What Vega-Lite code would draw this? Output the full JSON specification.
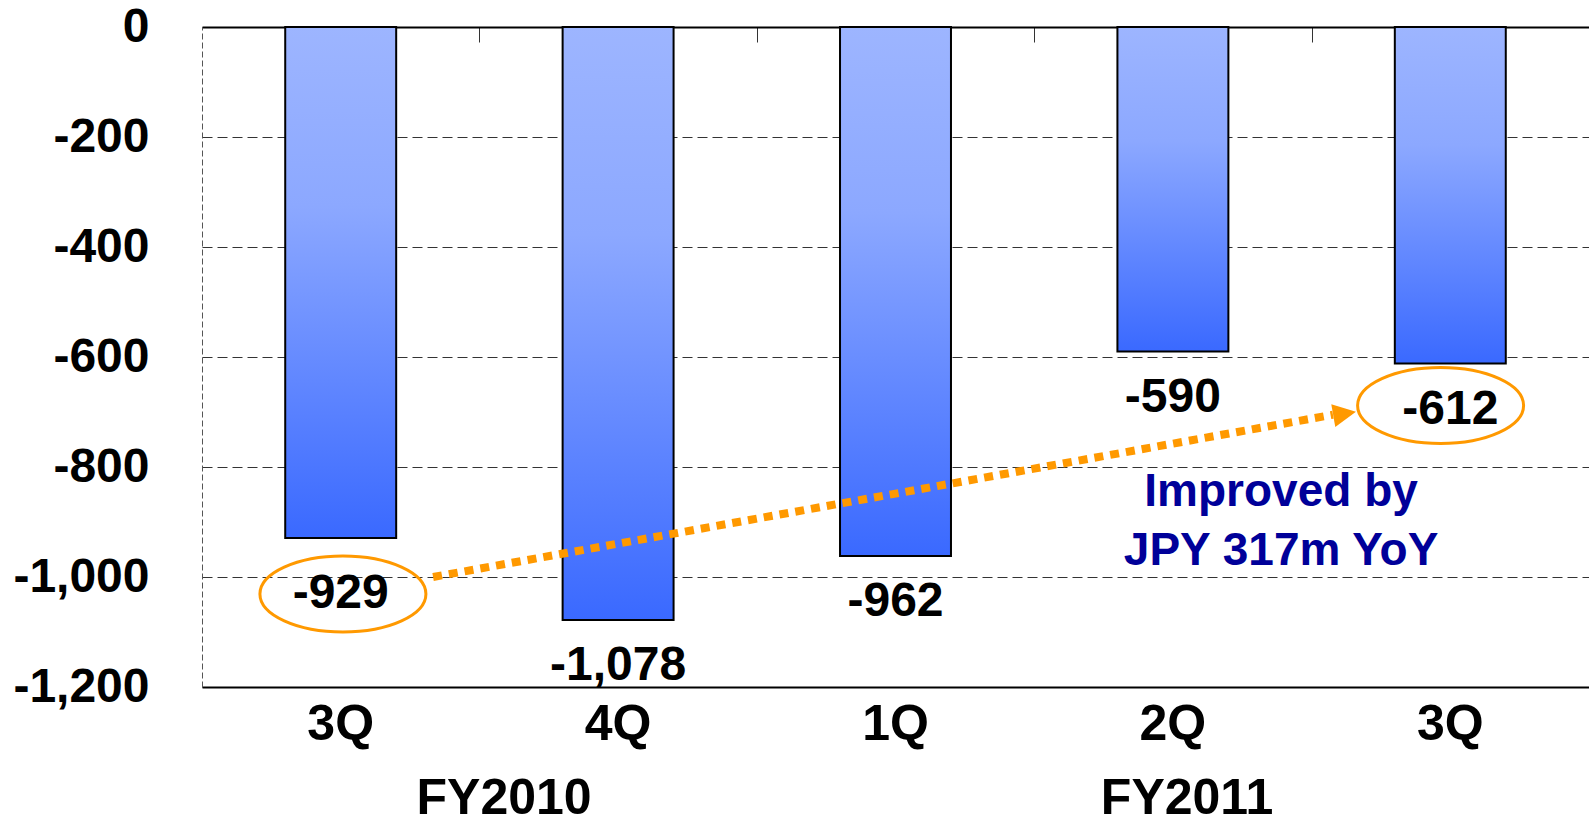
{
  "$schema": "https://vega.github.io/schema/vega-lite/v6.json",
  "width": 1387,
  "height": 660,
  "autosize": {"type": "none"},
  "padding": {"left": 202, "top": 27, "right": 0, "bottom": 138},
  "background": "white",
  "config": {"font": "Liberation Sans", "view": {"stroke": null}},
  "datasets": {
    "bars": [
      {"key": "3Q FY2010", "value": -929, "label": "-929"},
      {"key": "4Q FY2010", "value": -1078, "label": "-1,078"},
      {"key": "1Q FY2011", "value": -962, "label": "-962"},
      {"key": "2Q FY2011", "value": -590, "label": "-590"},
      {"key": "3Q FY2011", "value": -612, "label": "-612"}
    ],
    "ellipses": [
      {"u": 0.508, "yv": -1031},
      {"u": 4.465, "yv": -688}
    ],
    "arrowLine": [
      {"u": 0.833, "yv": -1000},
      {"u": 4.077, "yv": -705}
    ],
    "arrowHead": [
      {"u": 4.119, "yv": -703}
    ],
    "note": [
      {"u": 3.89, "yv": -846, "text": "Improved by\nJPY 317m YoY"}
    ],
    "fy": [
      {"u": 1.089, "yv": -1431, "text": "FY2010"},
      {"u": 3.551, "yv": -1431, "text": "FY2011"}
    ]
  },
  "resolve": {"scale": {"x": "independent"}, "axis": {"x": "independent"}},
  "layer": [
    {
      "data": {"name": "bars"},
      "layer": [
        {
          "mark": {
            "type": "bar",
            "stroke": "black",
            "strokeWidth": 2,
            "fill": {
              "gradient": "linear",
              "x1": 0, "y1": 0, "x2": 0, "y2": 1,
              "stops": [
                {"offset": 0, "color": "#9DB5FF"},
                {"offset": 0.35, "color": "#8CA8FF"},
                {"offset": 1, "color": "#3A69FF"}
              ]
            }
          },
          "encoding": {
            "x": {
              "field": "key", "type": "nominal", "sort": null,
              "scale": {"paddingInner": 0.6, "paddingOuter": 0.3},
              "axis": {
                "orient": "bottom", "title": null, "ticks": false,
                "labelExpr": "slice(datum.value, 0, 2)",
                "labelFontSize": 50, "labelFontWeight": "bold", "labelColor": "black",
                "labelPadding": 12, "labelAngle": 0,
                "domain": true, "domainColor": "black", "domainWidth": 2, "grid": false
              }
            },
            "y": {
              "field": "value", "type": "quantitative",
              "scale": {"domain": [-1200, 0], "nice": false},
              "axis": {
                "title": null, "values": [-1200, -1000, -800, -600, -400, -200, 0],
                "labelExpr": "datum.value < 0 ? '-' + format(-datum.value, ',') : '0'",
                "labelFontSize": 48, "labelFontWeight": "bold", "labelColor": "black",
                "labelPadding": 53, "ticks": false,
                "grid": true, "gridDash": [10, 5], "gridColor": "#333333", "gridWidth": 1, "gridOpacity": 1,
                "domain": true, "domainDash": [6, 3], "domainColor": "#555555", "domainWidth": 1
              }
            }
          }
        },
        {
          "transform": [{"filter": "datum.key != '3Q FY2010'"}],
          "mark": {"type": "text", "dy": 46, "fontSize": 48, "fontWeight": "bold", "color": "black", "baseline": "middle", "align": "center"},
          "encoding": {
            "x": {"field": "key", "type": "nominal", "sort": null},
            "y": {"field": "value", "type": "quantitative", "scale": {"domain": [-1200, 0], "nice": false}},
            "text": {"field": "label"}
          }
        },
        {
          "transform": [{"filter": "datum.key == '3Q FY2010'"}],
          "mark": {"type": "text", "dy": 56, "fontSize": 48, "fontWeight": "bold", "color": "black", "baseline": "middle", "align": "center"},
          "encoding": {
            "x": {"field": "key", "type": "nominal", "sort": null},
            "y": {"field": "value", "type": "quantitative", "scale": {"domain": [-1200, 0], "nice": false}},
            "text": {"field": "label"}
          }
        }
      ]
    },
    {
      "layer": [
        {
          "data": {"name": "ellipses"},
          "mark": {
            "type": "point",
            "shape": "M-1,0 C-1,-0.253 -0.552,-0.458 0,-0.458 C0.552,-0.458 1,-0.253 1,0 C1,0.253 0.552,0.458 0,0.458 C-0.552,0.458 -1,0.253 -1,0 Z",
            "filled": false, "stroke": "#FF9900", "strokeWidth": 3, "size": 27556, "opacity": 1
          },
          "encoding": {
            "x": {
              "field": "u", "type": "quantitative",
              "scale": {"domain": [0, 5], "nice": false, "zero": false},
              "axis": {
                "orient": "top", "title": null, "labels": false, "values": [1, 2, 3, 4],
                "ticks": true, "tickSize": -15, "tickColor": "#333333", "tickWidth": 1,
                "domain": true, "domainColor": "black", "domainWidth": 2, "grid": false
              }
            },
            "y": {"field": "yv", "type": "quantitative", "scale": {"domain": [-1200, 0], "nice": false}}
          }
        },
        {
          "data": {"name": "arrowLine"},
          "mark": {"type": "line", "color": "#FF9900", "strokeWidth": 8, "strokeDash": [9, 7], "strokeCap": "butt"},
          "encoding": {
            "x": {"field": "u", "type": "quantitative", "scale": {"domain": [0, 5], "nice": false, "zero": false}},
            "y": {"field": "yv", "type": "quantitative", "scale": {"domain": [-1200, 0], "nice": false}}
          }
        },
        {
          "data": {"name": "arrowHead"},
          "mark": {"type": "point", "shape": "M-1,-1 L1,0 L-1,1 Z", "filled": true, "fill": "#FF9900", "strokeWidth": 0, "size": 529, "angle": -10, "opacity": 1},
          "encoding": {
            "x": {"field": "u", "type": "quantitative", "scale": {"domain": [0, 5], "nice": false, "zero": false}},
            "y": {"field": "yv", "type": "quantitative", "scale": {"domain": [-1200, 0], "nice": false}}
          }
        },
        {
          "data": {"name": "note"},
          "mark": {"type": "text", "fontSize": 46, "fontWeight": "bold", "color": "#000099", "lineBreak": "\n", "lineHeight": 59, "align": "center", "baseline": "middle"},
          "encoding": {
            "x": {"field": "u", "type": "quantitative", "scale": {"domain": [0, 5], "nice": false, "zero": false}},
            "y": {"field": "yv", "type": "quantitative", "scale": {"domain": [-1200, 0], "nice": false}},
            "text": {"field": "text"}
          }
        },
        {
          "data": {"name": "fy"},
          "mark": {"type": "text", "fontSize": 50, "fontWeight": "bold", "color": "black", "align": "center", "baseline": "alphabetic"},
          "encoding": {
            "x": {"field": "u", "type": "quantitative", "scale": {"domain": [0, 5], "nice": false, "zero": false}},
            "y": {"field": "yv", "type": "quantitative", "scale": {"domain": [-1200, 0], "nice": false}},
            "text": {"field": "text"}
          }
        }
      ]
    }
  ]
}
